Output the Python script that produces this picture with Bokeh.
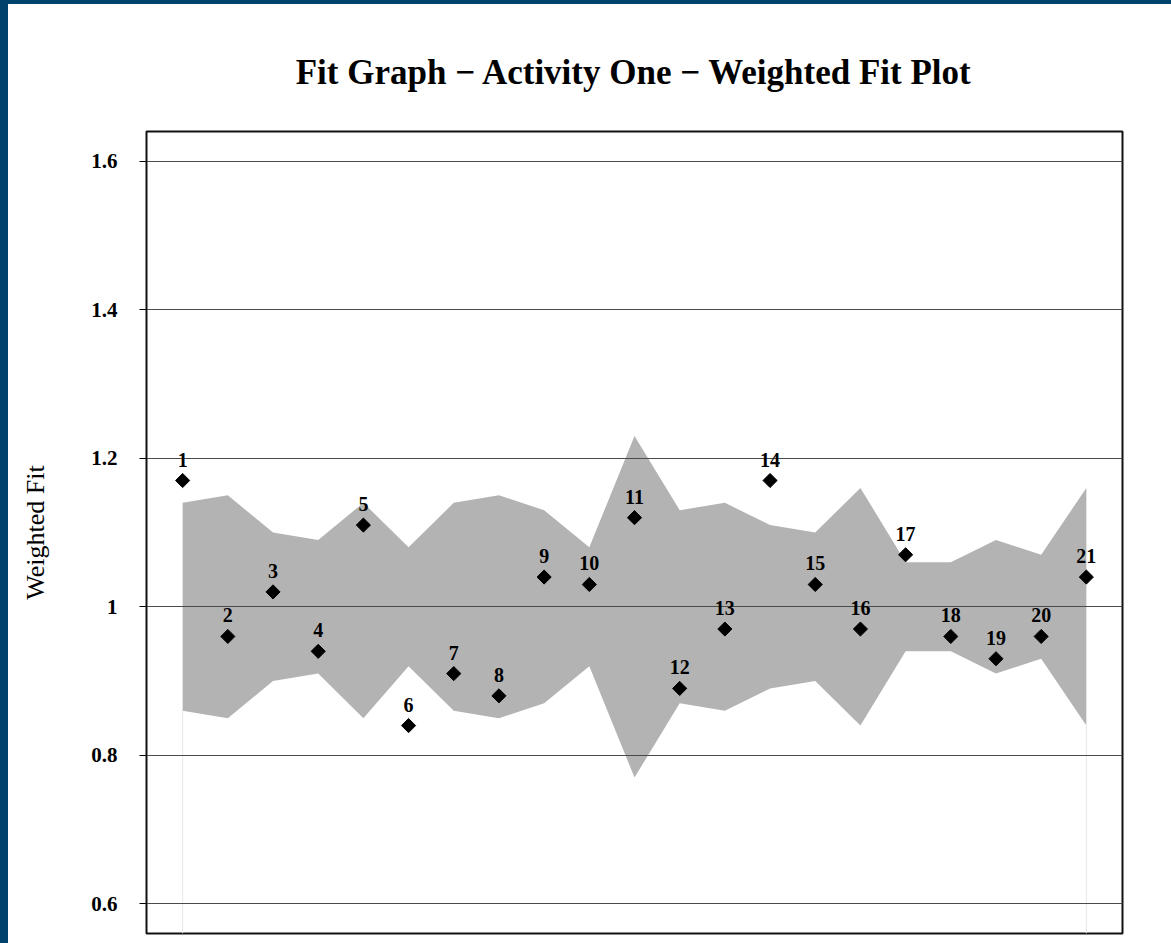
import math
from bokeh.plotting import figure
from bokeh.models import FixedTicker
from bokeh.embed import file_html
from bokeh.resources import INLINE
from bokeh.core.properties import value

# ---- data ----
items = list(range(1, 22))
item_labels = [str(i) for i in items]
weighted_fit = [1.17, 0.96, 1.02, 0.94, 1.11, 0.84, 0.91, 0.88, 1.04, 1.03, 1.12,
                0.89, 0.97, 1.17, 1.03, 0.97, 1.07, 0.96, 0.93, 0.96, 1.04]
band_upper = [1.14, 1.15, 1.10, 1.09, 1.14, 1.08, 1.14, 1.15, 1.13, 1.08, 1.23,
              1.13, 1.14, 1.11, 1.10, 1.16, 1.06, 1.06, 1.09, 1.07, 1.16]
band_lower = [0.86, 0.85, 0.90, 0.91, 0.85, 0.92, 0.86, 0.85, 0.87, 0.92, 0.77,
              0.87, 0.86, 0.89, 0.90, 0.84, 0.94, 0.94, 0.91, 0.93, 0.84]
y_ticks = [0.6, 0.8, 1.0, 1.2, 1.4, 1.6]
y_tick_labels = ["0.6", "0.8", "1", "1.2", "1.4", "1.6"]
title_text = "Fit Graph \u2212 Activity One \u2212 Weighted Fit Plot"
y_title = "Weighted Fit"

SERIF = "Liberation Serif"
Y_MIN, Y_MAX = 0.56, 1.64

p = figure(width=1171, height=943, x_range=(0.2, 21.8), y_range=(Y_MIN, Y_MAX),
           output_backend="svg", toolbar_location=None,
           min_border_left=146, min_border_top=131, min_border_right=49,
           min_border_bottom=10, background_fill_color="white",
           border_fill_color=None)
p.styles = {"background-color": "white",
            "box-shadow": "inset 8px 4px 0 0 #01426c"}

# title
p.title.text = title_text
p.title.align = "center"
p.title.text_font = SERIF
p.title.text_font_style = "bold"
p.title.text_font_size = "35px"
p.title.text_color = "black"
p.title.standoff = 80

# axes
p.xaxis.visible = False
p.xgrid.visible = False
ax = p.yaxis[0]
ax.ticker = FixedTicker(ticks=y_ticks)
ax.major_label_overrides = {t: l for t, l in zip(y_ticks, y_tick_labels)}
ax.axis_line_color = None
ax.major_tick_in = 0
ax.major_tick_out = 7
ax.major_tick_line_color = "black"
ax.major_tick_line_width = 1
ax.minor_tick_line_color = None
ax.major_label_standoff = 22
ax.major_label_text_font = SERIF
ax.major_label_text_font_style = "bold"
ax.major_label_text_font_size = "21px"
ax.major_label_text_color = "black"
ax.axis_label = y_title
ax.axis_label_text_font = SERIF
ax.axis_label_text_font_style = "normal"
ax.axis_label_text_font_size = "26px"
ax.axis_label_text_color = "black"
ax.axis_label_standoff = 38

p.ygrid.ticker = FixedTicker(ticks=y_ticks)
p.ygrid.grid_line_color = "#4a4a4a"
p.ygrid.grid_line_width = 1

p.outline_line_color = "#111111"
p.outline_line_width = 2

# faint drop lines at the band ends
ends_x = [items[0], items[-1]]
ends_y0 = [Y_MIN, Y_MIN]
ends_y1 = [band_lower[0], band_lower[-1]]
p.segment(x0=ends_x, y0=ends_y0, x1=ends_x, y1=ends_y1,
          line_color="#e6e6e6", line_width=1, level="image")

# band
p.varea(x=items, y1=band_lower, y2=band_upper, fill_color="#b3b3b3",
        level="image")

# points
p.scatter(x=items, y=weighted_fit, marker="square", angle=math.pi / 4,
          size=10, fill_color="black", line_color="black")

# point labels
p.text(x=items, y=weighted_fit, text=item_labels, text_align="center",
       text_baseline="alphabetic", y_offset=-21,
       text_font=value(SERIF), text_font_style="bold",
       text_font_size="20px", text_color="black")

open("out.html", "w").write(file_html(p, INLINE))
